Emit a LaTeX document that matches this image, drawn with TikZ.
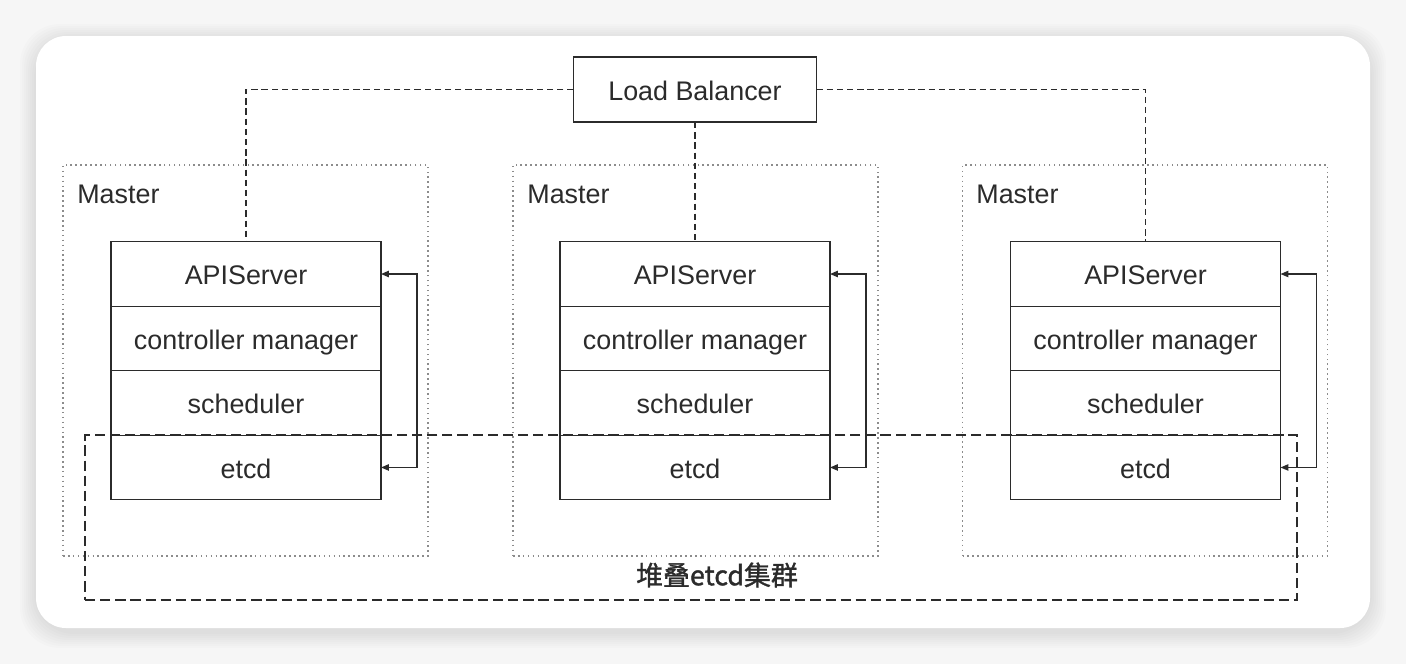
\documentclass[tikz,border=0pt]{standalone}
\usepackage{fontspec}
\setmainfont{Liberation Sans}
\newfontfamily\cjk[FakeBold=1.3]{Noto Sans CJK SC}
\usetikzlibrary{arrows.meta,positioning,fit,backgrounds}
\definecolor{ink}{HTML}{2B2B2B}
\definecolor{dotgray}{HTML}{8C8C8C}
\definecolor{pagebg}{HTML}{F6F6F6}
\tikzset{
  txt/.style={font=\fontsize{15.3}{18}\selectfont,text=ink},
  % component stack of one master
  layer/.style={draw=ink,line width=0.75pt,minimum width=5.4cm,minimum height=1.29cm,
    outer sep=0pt,inner sep=0pt,text height=12pt,text depth=0pt,txt},
  lbbox/.style={draw=ink,line width=0.75pt,minimum width=4.86cm,minimum height=1.3cm,
    outer sep=0pt,inner sep=0pt,text height=12pt,text depth=0pt,txt},
  % master frame
  masterbox/.style={draw=dotgray,line width=0.7pt,dash pattern=on 0.9pt off 1.9pt,
    minimum width=7.3cm,minimum height=7.82cm},
  mastertitle/.style={txt,anchor=west,inner sep=0pt},
  % connectors
  lbline/.style={draw=ink,line width=0.7pt,dash pattern=on 3.6pt off 2.2pt},
  syncedge/.style={draw=ink,line width=0.8pt,
    {Triangle[length=4.5pt,width=3.6pt]}-{Triangle[length=4.5pt,width=3.6pt]}},
  % stacked etcd cluster
  clusterbox/.style={draw=ink,line width=0.8pt,dash pattern=on 5.8pt off 2.8pt},
}

\begin{document}
\begin{tikzpicture}[x=0.02cm,y=-0.02cm,node distance=0pt]
\useasboundingbox (0,0) rectangle (1406,664);

%% ---- card ----
\fill[pagebg] (0,0) rectangle (1406,664);
\foreach \s in {2,4,...,16}
  \fill[black,opacity=0.011,rounded corners=0.8cm] ({36-\s},{40-\s}) rectangle ({1370+\s},{632+\s});
\fill[white,rounded corners=0.6cm] (36,36) rectangle (1370,628);

%% ---- master frames ----
\node[masterbox] (m1) at (245.5,360.5) {};
\node[masterbox] (m2) at (695.5,360.5) {};
\node[masterbox] (m3) at (1145,360.5) {};
\node[mastertitle] at (77,194) {Master};
\node[mastertitle] at (527,194) {Master};
\node[mastertitle] at (976,194) {Master};

%% ---- load balancer ----
\node[lbbox] (lb) at (695,89.5) {Load Balancer};

%% ---- master 1 ----
\node[layer] (api1) at (246,274) {APIServer};
\node[layer,below=of api1] (cm1)   {controller manager};
\node[layer,below=of cm1]  (sch1)  {scheduler};
\node[layer,below=of sch1] (etcd1) {etcd};

%% ---- master 2 ----
\node[layer] (api2) at (695,274) {APIServer};
\node[layer,below=of api2] (cm2)   {controller manager};
\node[layer,below=of cm2]  (sch2)  {scheduler};
\node[layer,below=of sch2] (etcd2) {etcd};

%% ---- master 3 ----
\node[layer] (api3) at (1145.5,274) {APIServer};
\node[layer,below=of api3] (cm3)   {controller manager};
\node[layer,below=of cm3]  (sch3)  {scheduler};
\node[layer,below=of sch3] (etcd3) {etcd};

%% ---- load balancer links ----
\draw[lbline] (lb.west) -| (api1.north);
\draw[lbline] (lb.south) -- (api2.north);
\draw[lbline] (lb.east) -| (api3.north);

%% ---- apiserver <-> etcd ----
\draw[syncedge] (etcd1.east) -- ++(36,0) |- (api1.east);
\draw[syncedge] (etcd2.east) -- ++(36,0) |- (api2.east);
\draw[syncedge] (etcd3.east) -- ++(36,0) |- (api3.east);

%% ---- stacked etcd cluster ----
\node[clusterbox,minimum width=24.24cm,minimum height=3.3cm] (cluster) at (691,517.5) {};
\node[txt,font=\cjk\fontsize{15.3}{18}\selectfont] (clusterlbl) at (717,575) {堆叠etcd集群};
\end{tikzpicture}
\end{document}
